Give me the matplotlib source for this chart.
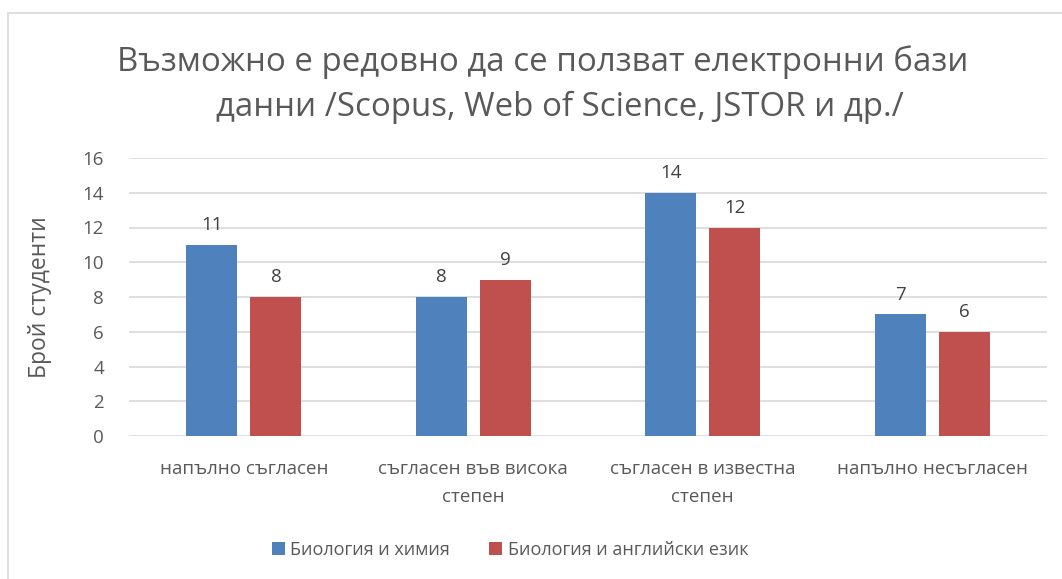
import matplotlib.pyplot as plt
import numpy as np
from matplotlib.patches import Rectangle

plt.rcParams['font.family'] = ['Open Sans', 'DejaVu Sans']

title_lines = ["Възможно е редовно да се ползват електронни бази",
               "данни /Scopus, Web of Science, JSTOR и др./"]
categories = ["напълно съгласен", "съгласен във висока\nстепен",
              "съгласен в известна\nстепен", "напълно несъгласен"]
series_names = ["Биология и химия", "Биология и английски език"]
bio_chem = [11, 8, 14, 7]
bio_eng = [8, 9, 12, 6]
colors = ["#4f81bd", "#c0504d"]
text_col = "#595959"

W, H = 1062, 579
fig = plt.figure(figsize=(W / 100, H / 100), dpi=100)
fig.patches.append(Rectangle((8 / W, -1), 3, 2 - 13 / H, transform=fig.transFigure,
                             fill=False, edgecolor="#d9d9d9", lw=1.2))

ax = fig.add_axes([129 / W, 1 - 436 / H, 918 / W, 278 / H])
x = np.arange(len(categories))
bw = 0.222
off = 0.14
for vals, dx, c, name in zip([bio_chem, bio_eng], [-off, off], colors, series_names):
    bars = ax.bar(x + dx, vals, width=bw, color=c, label=name, zorder=3)
    for b, v in zip(bars, vals):
        ax.text(b.get_x() + b.get_width() / 2, v + 0.62, str(v), ha="center",
                va="bottom", fontsize=13.5, color="#404040")

ax.set_xlim(-0.5, 3.5)
ax.set_ylim(0, 16)
ax.set_yticks(range(0, 17, 2))
ax.grid(axis="y", color="#d9d9d9", lw=1.2, zorder=0)
for s in ax.spines.values():
    s.set_visible(False)
ax.tick_params(length=0, labelsize=13.5, colors=text_col, pad=18)
ax.tick_params(axis="x", pad=17)
ax.set_xticks(x)
ax.set_xticklabels(categories, linespacing=1.75)
ax.set_ylabel("Брой студенти", fontsize=16.5, color=text_col, labelpad=22)

for line, cx, cy in zip(title_lines, [543, 560], [62, 107]):
    fig.text(cx / W, 1 - cy / H, line, ha="center", va="center",
             fontsize=23.8, color="#595959")

fig.legend(loc="center", bbox_to_anchor=(510 / W, 1 - 550 / H), ncol=2, frameon=False,
           fontsize=13, labelcolor=text_col, handlelength=0.7, handleheight=0.7,
           handletextpad=0.3, columnspacing=2.2)

fig.savefig("out.png", dpi=100)
